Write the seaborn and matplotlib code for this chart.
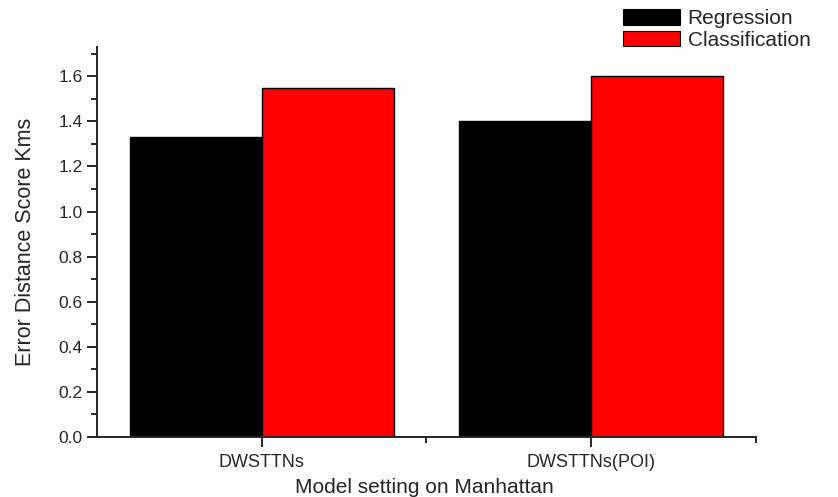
import pandas as pd
import matplotlib.pyplot as plt
import seaborn as sns
from matplotlib.ticker import MultipleLocator, FixedLocator

# Data
models = ["DWSTTNs", "DWSTTNs(POI)"]
regression = [1.33, 1.40]
classification = [1.55, 1.60]
methods = ["Regression", "Classification"]
colors = ["#000000", "#ff0000"]

df = pd.DataFrame({
    "model": models * 2,
    "method": [methods[0]] * 2 + [methods[1]] * 2,
    "score": regression + classification,
})

sns.set_style("ticks")
plt.rcParams["font.family"] = ["Liberation Sans", "DejaVu Sans"]

fig = plt.figure(figsize=(8.38, 4.97), dpi=100)
ax = fig.add_axes([0.1158, 0.1207, 0.7862, 0.7847])

sns.barplot(data=df, x="model", y="score", hue="method", palette=colors,
            saturation=1, width=0.8, edgecolor="black", linewidth=1,
            ax=ax, legend=False)

ax.set_xlim(-0.5, 1.5)
ax.set_ylim(0, 1.73)
ax.yaxis.set_major_locator(MultipleLocator(0.2))
ax.yaxis.set_minor_locator(MultipleLocator(0.1))
ax.xaxis.set_minor_locator(FixedLocator([0.5, 1.5]))
ax.yaxis.set_major_formatter(plt.FormatStrFormatter("%.1f"))

for s in ["top", "right"]:
    ax.spines[s].set_visible(False)
for s in ["left", "bottom"]:
    ax.spines[s].set_linewidth(1.4)
ax.tick_params(which="major", direction="out", length=7, width=1.4, labelsize=12.5)
ax.tick_params(which="minor", direction="out", length=4, width=1.4)
ax.tick_params(axis="x", pad=5, labelsize=13)

ax.set_xlabel("Model setting on Manhattan", fontsize=15)
ax.set_ylabel("Error Distance Score Kms", fontsize=15.5)
ax.xaxis.set_label_coords(0.497, -0.104)
ax.yaxis.set_label_coords(-0.093, 0.5)

handles = [plt.Rectangle((0, 0), 1, 1, facecolor=c, edgecolor="black", linewidth=0.8)
           for c in colors]
fig.legend(handles, methods, loc="upper left", bbox_to_anchor=(0.743, 0.981),
           frameon=False, fontsize=15, handlelength=2.74, handleheight=0.77,
           handletextpad=0.38, labelspacing=0.12, borderpad=0, borderaxespad=0)

plt.savefig("out.png", dpi=100)
